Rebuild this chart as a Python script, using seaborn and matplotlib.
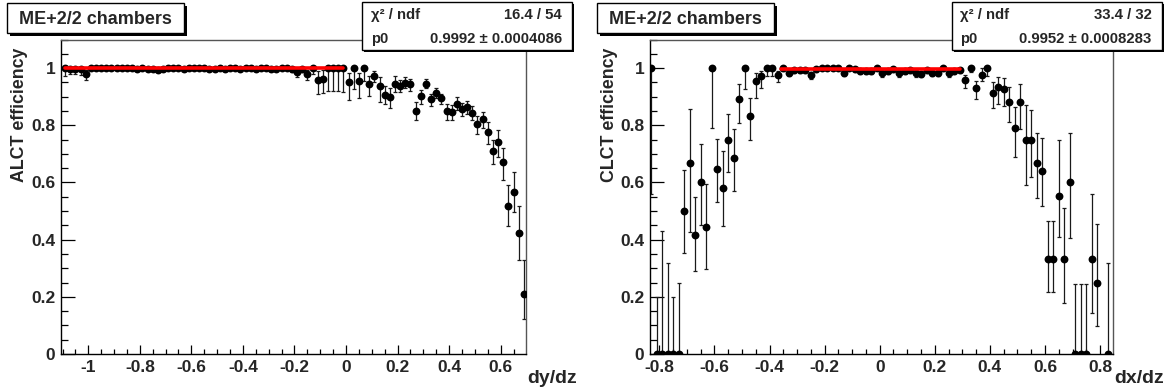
import numpy as np
import pandas as pd
import matplotlib.pyplot as plt
import seaborn as sns
from matplotlib.patches import Rectangle
from matplotlib.ticker import MultipleLocator, FuncFormatter

# ---------------- ALCT efficiency vs dy/dz ----------------
alct_x = [
    -1.09, -1.07, -1.05, -1.03, -1.01, -0.99, -0.97, -0.95, -0.93, -0.91,
    -0.89, -0.87, -0.85, -0.83, -0.81, -0.79, -0.77, -0.75, -0.73, -0.71,
    -0.69, -0.67, -0.65, -0.63, -0.61, -0.59, -0.57, -0.55, -0.53, -0.51,
    -0.49, -0.47, -0.45, -0.43, -0.41, -0.39, -0.37, -0.35, -0.33, -0.31,
    -0.29, -0.27, -0.25, -0.23, -0.21, -0.19, -0.17, -0.15, -0.13, -0.11,
    -0.09, -0.07, -0.05, -0.03, -0.01, 0.01, 0.03, 0.05, 0.07, 0.09,
    0.11, 0.13, 0.15, 0.17, 0.19, 0.21, 0.23, 0.25, 0.27, 0.29,
    0.31, 0.33, 0.35, 0.37, 0.39, 0.41, 0.43, 0.45, 0.47, 0.49,
    0.51, 0.53, 0.55, 0.57, 0.59, 0.61, 0.63, 0.65, 0.67, 0.69,
]
alct_eff = [
    1.000, 0.998, 0.998, 0.997, 0.980, 1.000, 1.000, 1.000, 1.000, 1.000,
    1.000, 1.000, 1.000, 1.000, 0.998, 1.000, 0.997, 0.996, 0.995, 0.997,
    1.000, 1.000, 1.000, 0.996, 1.000, 0.999, 1.000, 1.000, 0.998, 0.998,
    0.999, 0.996, 1.000, 1.000, 0.998, 0.999, 1.000, 0.998, 1.000, 0.999,
    0.997, 0.996, 1.000, 1.000, 0.996, 0.985, 0.997, 0.980, 1.000, 0.960,
    0.962, 1.000, 1.000, 1.000, 1.000, 0.951, 1.000, 0.955, 1.000, 0.945,
    0.972, 0.937, 0.905, 0.899, 0.946, 0.937, 0.949, 0.943, 0.850, 0.902,
    0.946, 0.891, 0.912, 0.896, 0.850, 0.847, 0.876, 0.858, 0.864, 0.844,
    0.806, 0.821, 0.775, 0.711, 0.740, 0.670, 0.517, 0.567, 0.422, 0.211,
]
alct_err_lo = [
    0.027, 0.020, 0.018, 0.020, 0.020, 0.006, 0.005, 0.005, 0.005, 0.005,
    0.005, 0.005, 0.005, 0.005, 0.006, 0.004, 0.006, 0.007, 0.007, 0.006,
    0.004, 0.004, 0.004, 0.006, 0.004, 0.005, 0.004, 0.004, 0.005, 0.005,
    0.005, 0.006, 0.004, 0.004, 0.005, 0.005, 0.004, 0.005, 0.004, 0.005,
    0.006, 0.007, 0.005, 0.005, 0.008, 0.015, 0.010, 0.020, 0.020, 0.050,
    0.050, 0.080, 0.080, 0.080, 0.085, 0.064, 0.074, 0.058, 0.045, 0.043,
    0.020, 0.054, 0.032, 0.040, 0.030, 0.020, 0.020, 0.022, 0.030, 0.027,
    0.015, 0.023, 0.015, 0.023, 0.030, 0.030, 0.024, 0.025, 0.025, 0.025,
    0.037, 0.030, 0.040, 0.046, 0.052, 0.060, 0.068, 0.071, 0.094, 0.090,
]
alct_err_hi = [
    0.000, 0.002, 0.002, 0.003, 0.012, 0.000, 0.000, 0.000, 0.000, 0.000,
    0.000, 0.000, 0.000, 0.000, 0.002, 0.000, 0.003, 0.003, 0.004, 0.003,
    0.000, 0.000, 0.000, 0.003, 0.000, 0.001, 0.000, 0.000, 0.002, 0.002,
    0.001, 0.003, 0.000, 0.000, 0.002, 0.001, 0.000, 0.002, 0.000, 0.001,
    0.003, 0.003, 0.000, 0.000, 0.003, 0.010, 0.003, 0.012, 0.000, 0.030,
    0.030, 0.000, 0.000, 0.000, 0.000, 0.033, 0.000, 0.029, 0.000, 0.027,
    0.018, 0.032, 0.034, 0.030, 0.025, 0.020, 0.020, 0.018, 0.030, 0.020,
    0.015, 0.017, 0.017, 0.015, 0.025, 0.025, 0.023, 0.020, 0.020, 0.022,
    0.026, 0.025, 0.035, 0.038, 0.044, 0.052, 0.074, 0.068, 0.095, 0.119,
]
alct_fit_range = [-1.09, -0.01]
alct_p0 = 0.9992
alct_chi2 = "16.4 / 54"
alct_p0_text = "0.9992 \u00b1 0.0004086"

# ---------------- CLCT efficiency vs dx/dz ----------------
clct_x = [
    -0.83, -0.81, -0.79, -0.77, -0.75, -0.73, -0.71, -0.69, -0.67, -0.65,
    -0.63, -0.61, -0.59, -0.57, -0.55, -0.53, -0.51, -0.49, -0.47, -0.45,
    -0.43, -0.41, -0.39, -0.37, -0.35, -0.33, -0.31, -0.29, -0.27, -0.25,
    -0.23, -0.21, -0.19, -0.17, -0.15, -0.13, -0.11, -0.09, -0.07, -0.05,
    -0.03, -0.01, 0.01, 0.03, 0.05, 0.07, 0.09, 0.11, 0.13, 0.15,
    0.17, 0.19, 0.21, 0.23, 0.25, 0.27, 0.29, 0.31, 0.33, 0.35,
    0.37, 0.39, 0.41, 0.43, 0.45, 0.47, 0.49, 0.51, 0.53, 0.55,
    0.57, 0.59, 0.61, 0.63, 0.65, 0.67, 0.69, 0.71, 0.73, 0.75,
    0.77, 0.79, 0.83,
]
clct_eff = [
    1.000, 0.000, 0.000, 0.000, 0.000, 0.000, 0.500, 0.667, 0.417, 0.600,
    0.444, 1.000, 0.646, 0.582, 0.750, 0.686, 0.893, 1.000, 0.832, 0.955,
    0.972, 1.000, 1.000, 0.976, 1.000, 0.984, 0.992, 0.993, 0.992, 0.976,
    0.996, 1.000, 1.000, 1.000, 1.000, 0.984, 1.000, 0.996, 0.990, 0.990,
    0.990, 1.000, 0.982, 0.990, 0.996, 0.982, 0.990, 0.993, 0.982, 0.981,
    0.993, 0.984, 0.984, 1.000, 0.982, 0.990, 0.995, 0.957, 1.000, 0.929,
    0.976, 1.000, 0.914, 0.934, 0.926, 0.881, 0.789, 0.881, 0.750, 0.750,
    0.667, 0.641, 0.333, 0.333, 0.552, 0.333, 0.600, 0.000, 0.000, 0.000,
    0.333, 0.250, 0.000,
]
clct_err_lo = [
    0.440, 0.000, 0.000, 0.000, 0.000, 0.000, 0.146, 0.240, 0.127, 0.148,
    0.148, 0.208, 0.116, 0.135, 0.112, 0.115, 0.085, 0.074, 0.084, 0.061,
    0.042, 0.027, 0.027, 0.025, 0.010, 0.012, 0.010, 0.010, 0.010, 0.014,
    0.008, 0.008, 0.008, 0.008, 0.008, 0.012, 0.008, 0.009, 0.010, 0.010,
    0.010, 0.008, 0.012, 0.010, 0.009, 0.012, 0.010, 0.010, 0.012, 0.012,
    0.010, 0.012, 0.012, 0.010, 0.014, 0.012, 0.012, 0.025, 0.015, 0.036,
    0.021, 0.027, 0.052, 0.058, 0.058, 0.069, 0.099, 0.095, 0.160, 0.130,
    0.122, 0.124, 0.117, 0.117, 0.142, 0.156, 0.196, 0.000, 0.000, 0.000,
    0.191, 0.153, 0.000,
]
clct_err_hi = [
    0.000, 0.200, 0.430, 0.320, 0.200, 0.250, 0.143, 0.190, 0.133, 0.134,
    0.150, 0.000, 0.107, 0.127, 0.091, 0.101, 0.052, 0.000, 0.062, 0.029,
    0.018, 0.000, 0.000, 0.015, 0.000, 0.008, 0.005, 0.005, 0.005, 0.010,
    0.003, 0.000, 0.000, 0.000, 0.000, 0.008, 0.000, 0.003, 0.006, 0.006,
    0.006, 0.000, 0.008, 0.006, 0.003, 0.008, 0.006, 0.005, 0.008, 0.008,
    0.005, 0.008, 0.008, 0.000, 0.009, 0.006, 0.004, 0.020, 0.000, 0.026,
    0.024, 0.000, 0.038, 0.035, 0.040, 0.053, 0.076, 0.062, 0.121, 0.103,
    0.107, 0.114, 0.133, 0.133, 0.198, 0.177, 0.174, 0.246, 0.246, 0.246,
    0.227, 0.205, 0.318,
]
clct_fit_range = [-0.36, 0.29]
clct_p0 = 0.9952
clct_chi2 = "33.4 / 32"
clct_p0_text = "0.9952 \u00b1 0.0008283"

title_text = "ME+2/2 chambers"

sns.set_theme(style="white")
plt.rcParams['font.family'] = ['Liberation Sans', 'DejaVu Sans']
plt.rcParams['font.weight'] = 'bold'
plt.rcParams['axes.unicode_minus'] = False

W, H = 1175, 392
fig = plt.figure(figsize=(W / 100, H / 100), dpi=100)


def px_axes(left, top, right, bottom):
    return fig.add_axes([left / W, 1 - bottom / H, (right - left) / W, (bottom - top) / H])


def pave(x0, y0, x1, y1, shadow=3):
    # ROOT style box with a drop shadow (pixel coords, origin top-left)
    fig.patches.append(Rectangle(((x0 + shadow) / W, 1 - (y1 + shadow) / H),
                                 (x1 - x0) / W, (y1 - y0) / H, transform=fig.transFigure,
                                 facecolor='black', edgecolor='none', zorder=10))
    fig.patches.append(Rectangle((x0 / W, 1 - y1 / H), (x1 - x0) / W, (y1 - y0) / H,
                                 transform=fig.transFigure, facecolor='white',
                                 edgecolor='black', lw=1, zorder=11))


def draw_panel(ax, x, eff, lo, hi, fit_range, p0, xlim, ylabel, xlabel):
    df = pd.DataFrame({'x': x, 'eff': eff, 'lo': lo, 'hi': hi})
    ax.errorbar(df['x'], df['eff'], yerr=[df['lo'], df['hi']], fmt='none',
                ecolor='#1a1a1a', elinewidth=0.9, capsize=1.4, capthick=0.9, zorder=2)
    sns.scatterplot(data=df, x='x', y='eff', color='black', s=32, linewidth=0,
                    ax=ax, zorder=3, legend=False)
    fit = pd.DataFrame({'x': fit_range, 'y': [p0, p0]})
    sns.lineplot(data=fit, x='x', y='y', color='#ff0000', lw=2.6, ax=ax, zorder=4)

    ax.set_xlim(*xlim)
    ax.set_ylim(0, 1.1)
    ax.set_xlabel('')
    ax.set_ylabel('')
    ax.xaxis.set_major_locator(MultipleLocator(0.2))
    ax.xaxis.set_minor_locator(MultipleLocator(0.05))
    ax.yaxis.set_major_locator(MultipleLocator(0.2))
    ax.yaxis.set_minor_locator(MultipleLocator(0.05))
    fmt = FuncFormatter(lambda v, pos: '%g' % round(v, 6))
    ax.xaxis.set_major_formatter(fmt)
    ax.yaxis.set_major_formatter(fmt)
    ax.tick_params(axis='both', which='both', direction='in', bottom=True, left=True,
                   top=False, right=False, color='black', width=0.9)
    ax.tick_params(axis='x', which='major', length=6.8, labelsize=12.5, pad=4)
    ax.tick_params(axis='x', which='minor', length=3.4)
    ax.tick_params(axis='y', which='major', length=10, labelsize=12.5, pad=4)
    ax.tick_params(axis='y', which='minor', length=5)
    for lab in ax.get_xticklabels() + ax.get_yticklabels():
        lab.set_fontweight('bold')
    for side in ['left', 'bottom']:
        ax.spines[side].set_color('black')
        ax.spines[side].set_linewidth(1)
    for side in ['top', 'right']:
        ax.spines[side].set_color('#555555')
        ax.spines[side].set_linewidth(1)

    # ROOT-like axis titles: y title at top end, x title past the right end
    ax.text(-0.088, 0.975, ylabel, transform=ax.transAxes, rotation=90,
            ha='center', va='top', fontsize=12.8, fontweight='bold')
    ax.text(1.11, -0.077, xlabel, transform=ax.transAxes, ha='right', va='center',
            fontsize=14, fontweight='bold')


ax1 = px_axes(60.7, 39.5, 525.7, 354)
draw_panel(ax1, alct_x, alct_eff, alct_err_lo, alct_err_hi, alct_fit_range, alct_p0,
           (-1.107, 0.697), 'ALCT efficiency', 'dy/dz')
ax2 = px_axes(650, 39.5, 1113.3, 354)
draw_panel(ax2, clct_x, clct_eff, clct_err_lo, clct_err_hi, clct_fit_range, clct_p0,
           (-0.834, 0.848), 'CLCT efficiency', 'dx/dz')

# title boxes and fit statistics boxes
for x0, chi2, p0txt in [(0, alct_chi2, alct_p0_text), (589.5, clct_chi2, clct_p0_text)]:
    pave(x0 + 7, 3, x0 + 184, 33)
    fig.text((x0 + 95.5) / W, 1 - 19 / H, title_text, ha='center', va='center',
             fontsize=13, fontweight='bold', zorder=12)
    pave(x0 + 362, 2, x0 + 572, 50, shadow=2)
    fig.text((x0 + 371) / W, 1 - 15 / H, '\u03c7\u00b2 / ndf', ha='left', va='center',
             fontsize=10.7, fontweight='bold', zorder=12)
    fig.text((x0 + 562) / W, 1 - 15 / H, chi2, ha='right', va='center',
             fontsize=10.7, fontweight='bold', zorder=12)
    fig.text((x0 + 371) / W, 1 - 39 / H, 'p0', ha='left', va='center',
             fontsize=10.7, fontweight='bold', zorder=12)
    fig.text((x0 + 562) / W, 1 - 39 / H, p0txt, ha='right', va='center',
             fontsize=10.7, fontweight='bold', zorder=12)

fig.savefig('out.png', dpi=100, facecolor='white')
